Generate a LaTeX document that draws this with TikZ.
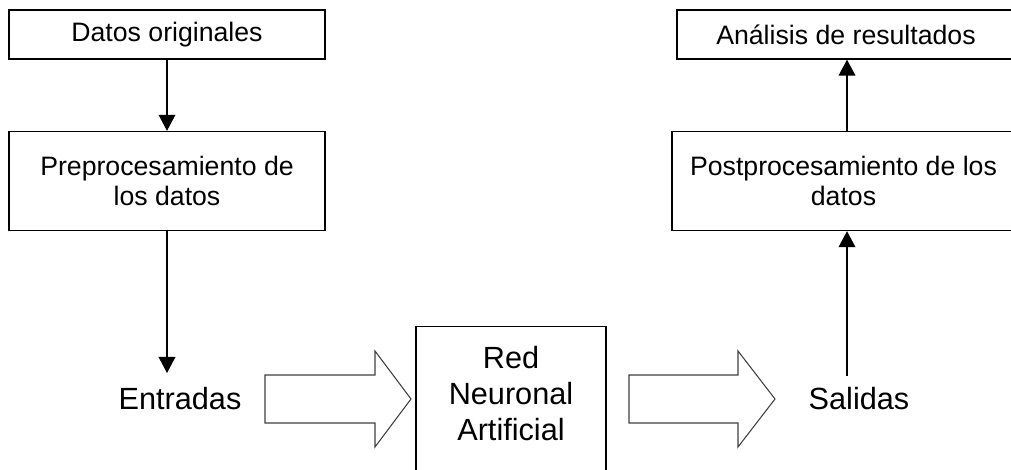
\documentclass[tikz,border=0pt]{standalone}
\usepackage{fontspec}
\setmainfont{Liberation Sans}
\usetikzlibrary{arrows.meta}
\begin{document}
\begin{tikzpicture}[x=0.75pt,y=-0.75pt,
  box/.style={draw, line width=1pt, inner sep=0pt, align=center,
    font=\fontsize{20}{22.5}\selectfont},
  big/.style={inner sep=0pt, align=center, font=\fontsize{23}{27}\selectfont},
  link/.style={line width=1.1pt, -{Triangle[width=12.5pt,length=12pt]}},
  hollow/.style={draw=black!75, line width=0.8pt, fill=white, line join=miter}]
\useasboundingbox (0,0) rectangle (1011,470);
\clip (0,0) rectangle (1011,470);

% left column
\node[box, minimum width=237pt, minimum height=36.75pt] (datos) at (167,34.5) {Datos originales};
\node[box, minimum width=237pt, minimum height=74.25pt] (pre) at (167,181) {Preprocesamiento de\\los datos};
\node[big] (entradas) at (180,399) {Entradas};
\coordinate (entin) at (167,373);

% right column (boxes run past the right edge)
\node[box, minimum width=253.5pt, minimum height=36.75pt] (analisis) at (846,34.5) {Análisis de resultados};
\node[box, minimum width=257.25pt, minimum height=74.25pt] (post) at (843.5,181) {Postprocesamiento de los\\datos};
\node[big] (salidas) at (859,399) {Salidas};
\coordinate (salout) at (847,376);

% network block (runs past the lower edge)
\node[draw, line width=1pt, minimum width=142.5pt, minimum height=120pt, anchor=north, inner sep=0pt] (red) at (511,326) {};
\node[big] (redtxt) at (511,394) {Red\\Neuronal\\Artificial};

% connectors
\draw[link] (datos.south) -- (pre.north);
\draw[link] (pre.south -| entin) -- (entin);
\draw[link] (salout) -- (salout |- post.south);
\draw[link] (post.north -| salout) -- (salout |- analisis.south);

% block arrows
\draw[hollow] (265,375) -- (375,375) -- (375,351) -- (411,399) -- (375,447) -- (375,423) -- (265,423) -- cycle;
\draw[hollow] (629,375) -- (738,375) -- (738,351) -- (775,399) -- (738,447) -- (738,423) -- (629,423) -- cycle;
\end{tikzpicture}
\end{document}
